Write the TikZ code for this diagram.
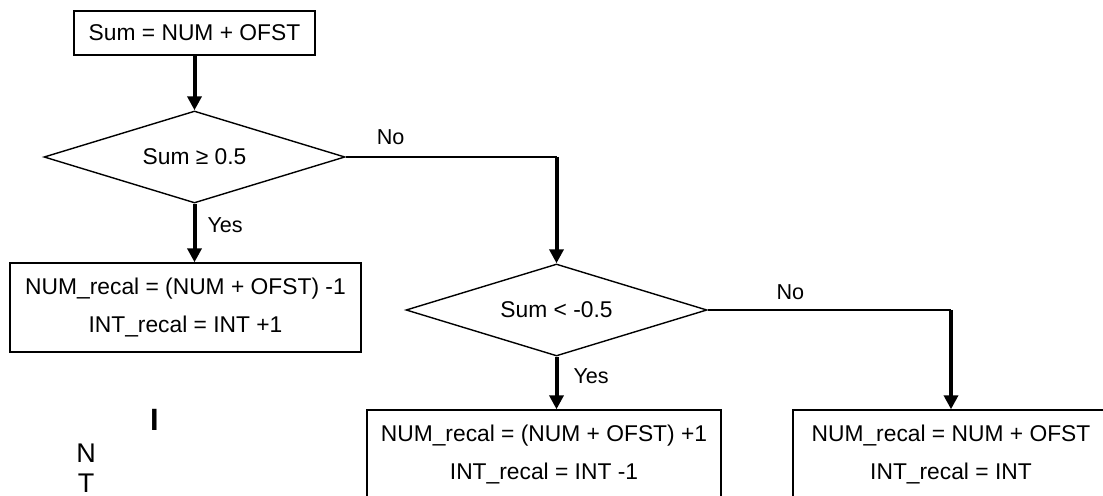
\documentclass[tikz,border=0pt]{standalone}
\usepackage{fontspec}
\setmainfont{Liberation Sans}
\usetikzlibrary{shapes.geometric,arrows.meta}

\begin{document}
\begin{tikzpicture}[x=0.5pt,y=-0.5pt,
    box/.style={draw,line width=0.7pt,inner sep=0pt,align=center,
      font=\fontsize{11.4}{19}\selectfont},
    decision/.style={draw,diamond,line width=0.7pt,inner sep=0pt,aspect=3.27,
      minimum width=150.5pt,minimum height=46pt,font=\fontsize{11.4}{14}\selectfont},
    flow/.style={line width=2pt,-{Triangle[width=7pt,length=7pt]}},
    branch/.style={line width=0.7pt},
    answer/.style={font=\fontsize{10.8}{13}\selectfont,inner sep=0pt},
    stray/.style={font=\fontsize{13.5}{16}\selectfont,inner sep=0pt}]
  \useasboundingbox (0,0) rectangle (1103,496);
  \clip (0,0) rectangle (1103,496);
  \draw
    (194.5,33) node[box,minimum width=120.5pt,minimum height=22pt] (sum){Sum = NUM + OFST}
    (194.5,157) node[decision] (high){Sum ≥ 0.5}
    (185.5,307.5) node[box,minimum width=175.5pt,minimum height=44.5pt] (dec){NUM\_recal = (NUM + OFST) -1\\INT\_recal = INT +1}
    (556.5,310) node[decision] (low){Sum < -0.5}
    (544,454.5) node[box,minimum width=177pt,minimum height=44.5pt] (inc){NUM\_recal = (NUM + OFST) +1\\INT\_recal = INT -1}
    (951,454.5) node[box,minimum width=158pt,minimum height=44.5pt] (keep){NUM\_recal = NUM + OFST\\INT\_recal = INT}
    (154.5,420) node[stray,font=\fontsize{15.4}{18}\selectfont\bfseries] (i){I}
    (86,453.5) node[stray] (n){N}
    (86,483) node[stray] (t){T};
  \coordinate (turnA) at (high.east -| low.north);
  \coordinate (turnB) at (low.east -| keep.north);
  \begin{scope}[flow]
    \draw (sum) to (high);
    \draw (high.south) to node[answer,pos=0.37,right=5.5pt] {Yes} (high.south |- dec.north);
    \draw (turnA) to (low);
    \draw (low.south) to node[answer,pos=0.37,right=7.5pt] {Yes} (low.south |- inc.north);
    \draw (turnB) to (keep);
  \end{scope}
  \begin{scope}[branch]
    \draw (high.east) to node[answer,pos=0.213,above=6pt] {No} (turnA);
    \draw (low.east) to node[answer,pos=0.34,above=4.7pt] {No} (turnB);
  \end{scope}
\end{tikzpicture}
\end{document}
